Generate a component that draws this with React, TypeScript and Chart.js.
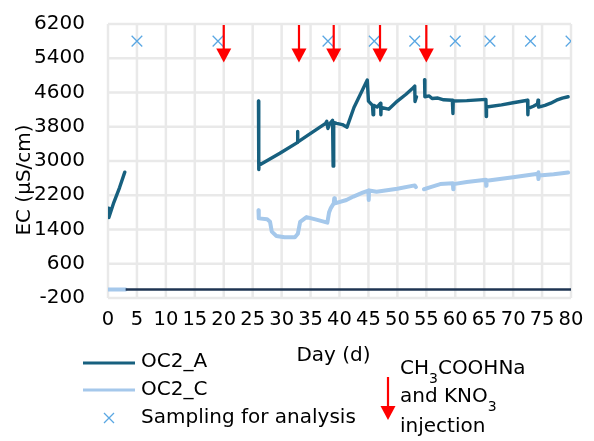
import { useEffect, useRef } from "react";
import { Chart, registerables } from "chart.js";

Chart.register(...registerables);

const FONT = "'DejaVu Sans', sans-serif";

// Electrical conductivity of column OC2_A (µS/cm) by day; null breaks the line
const oc2aDays = [
  0, 0.15, 1.0, 2.0, 2.9, 3.5,
  26.0, 26.05, 26.1, 29.7, 32.7, 32.75, 32.8, 34.5, 36.5, 37.6, 37.8, 38.0, 38.3, 38.8, 38.9, 39.0,
  39.5, 40.5, 41.3, 42.5, 44.8, 45.0, 45.7, 45.8, 45.9, 46.5, 47.1, 47.15, 47.2, 48.5, 50.0, 51.5,
  52.5, 53.0, 53.05, 53.3, 54.0,
  54.7, 54.75, 55.5, 56.0, 57.0, 58.0, 59.5, 59.6, 59.65, 62.0, 65.3, 65.35, 65.4, 68.0, 70.0,
  72.5, 72.55, 72.6, 73.5, 74.2, 74.3, 74.4, 75.5, 76.5, 77.5, 78.5, 79.5,
];
const oc2aEC = [
  1900, 1680, 2030, 2380, 2740, null,
  4400, 2800, 2900, 3180, 3430, 3690, 3440, 3600, 3780, 3880, 3930, 3760, 3870, 3950, 2880, 3900,
  3880, 3850, 3790, 4250, 4890, 4400, 4300, 4080, 4300, 4260, 4350, 4080, 4250, 4210, 4400, 4560,
  4680, 4750, 4390, 4500, null,
  4900, 4500, 4520, 4460, 4470, 4430, 4420, 4110, 4400, 4410, 4440, 4040, 4260, 4310, 4360,
  4420, 4080, 4230, 4280, 4330, 4420, 4260, 4300, 4350, 4420, 4470, 4500,
];

// Electrical conductivity of column OC2_C (µS/cm) by day; null breaks the line
const oc2cDays = [
  0, 3.05, 4.0,
  26.0, 26.05, 27.5, 28.0, 28.3, 29.1, 30.5, 32.3, 32.8, 33.2, 34.3, 36.0, 37.9, 38.2, 38.5, 39.0,
  39.1, 39.2, 41.2, 42.4, 44.0, 45.0, 45.05, 45.1, 46.4, 50.0, 53.0, 53.2, 54.0,
  54.6, 55.6, 57.4, 59.6, 59.65, 59.7, 62.0, 65.3, 65.35, 65.4, 70.0, 74.3, 74.35, 74.4, 74.5,
  77.0, 79.5,
];
const oc2cEC = [
  0, 0, null,
  1850, 1660, 1640, 1580, 1350, 1250, 1220, 1220, 1300, 1580, 1690, 1630, 1560, 1800, 1900, 2010,
  2130, 2010, 2090, 2170, 2260, 2310, 2090, 2310, 2280, 2350, 2430, 2390, null,
  2340, 2385, 2460, 2480, 2340, 2460, 2510, 2560, 2420, 2540, 2620, 2700, 2740, 2580, 2660,
  2690, 2730,
];

// Zero reference line
const zeroDays = [3.05, 80];
const zeroEC = [0, 0];

// Sampling days, marked along the top of the plot
const samplingDays = [5, 19, 38, 46, 53, 60, 66, 73, 80];
const SAMPLING_LEVEL = 5800;

// CH3COONa and KNO3 injection days, drawn as red arrows
const injectionDays = [20, 33, 39, 47, 55];
const ARROW_FROM = 6200;
const ARROW_TO = 5300;

// Axis ranges
const X_MIN = 0;
const X_MAX = 80;
const X_STEP = 5;
const Y_MIN = -200;
const Y_MAX = 6200;
const Y_STEP = 800;

const COLOR_A = "#17607f";
const COLOR_C = "#a5c8eb";
const COLOR_ZERO = "#1e3452";
const COLOR_SAMPLE = "#5aa7e3";
const COLOR_ARROW = "#ff0000";
const COLOR_GRID = "#e9e9e9";

const toPoints = (xs: number[], ys: (number | null)[]) =>
  xs.map((x, i) => ({ x, y: ys[i] }));

function drawArrow(ctx: CanvasRenderingContext2D, x: number, yTop: number, yTip: number, head: number, halfW: number, shaftW: number) {
  ctx.save();
  ctx.strokeStyle = COLOR_ARROW;
  ctx.fillStyle = COLOR_ARROW;
  ctx.lineWidth = shaftW;
  ctx.beginPath();
  ctx.moveTo(x, yTop);
  ctx.lineTo(x, yTip - head + 1);
  ctx.stroke();
  ctx.beginPath();
  ctx.moveTo(x - halfW, yTip - head);
  ctx.lineTo(x + halfW, yTip - head);
  ctx.lineTo(x, yTip);
  ctx.closePath();
  ctx.fill();
  ctx.restore();
}

// Light grid at every tick of both axes, under the data
const gridPlugin = {
  id: "tickGrid",
  beforeDatasetsDraw(chart: any) {
    const { ctx, chartArea, scales } = chart;
    const { left, right, top, bottom } = chartArea;
    ctx.save();
    ctx.strokeStyle = COLOR_GRID;
    ctx.lineWidth = 2.5;
    ctx.beginPath();
    scales.x.ticks.forEach((t: any) => {
      const px = scales.x.getPixelForValue(t.value);
      ctx.moveTo(px, top);
      ctx.lineTo(px, bottom);
    });
    scales.y.ticks.forEach((t: any) => {
      const py = scales.y.getPixelForValue(t.value);
      ctx.moveTo(left, py);
      ctx.lineTo(right, py);
    });
    ctx.stroke();
    ctx.restore();
  },
};

const arrowsPlugin = {
  id: "injectionArrows",
  afterDatasetsDraw(chart: any) {
    const { ctx, scales } = chart;
    const xs = scales.x;
    const ys = scales.y;
    const yTop = ys.getPixelForValue(ARROW_FROM) + 1;
    const yTip = ys.getPixelForValue(ARROW_TO);
    injectionDays.forEach((d) => {
      drawArrow(ctx, xs.getPixelForValue(d), yTop, yTip, 14, 7.5, 2.2);
    });
  },
};

const annotationsPlugin = {
  id: "titlesAndLegend",
  afterDraw(chart: any) {
    const { ctx, chartArea } = chart;
    ctx.save();
    ctx.fillStyle = "#000";
    ctx.textBaseline = "middle";

    // y-axis title
    ctx.save();
    ctx.translate(25, 180);
    ctx.rotate(-Math.PI / 2);
    ctx.textAlign = "center";
    ctx.font = `20px ${FONT}`;
    ctx.fillText("EC (µS/cm)", 0, 0);
    ctx.restore();

    // x-axis title
    ctx.textAlign = "center";
    ctx.font = `20px ${FONT}`;
    ctx.fillText("Day (d)", (chartArea.left + chartArea.right) / 2 - 6, 356);

    // legend: series lines
    ctx.textAlign = "left";
    ctx.lineCap = "butt";
    ctx.strokeStyle = COLOR_A;
    ctx.lineWidth = 3;
    ctx.beginPath();
    ctx.moveTo(83, 363);
    ctx.lineTo(135, 363);
    ctx.stroke();
    ctx.fillText("OC2_A", 141, 362);

    ctx.strokeStyle = COLOR_C;
    ctx.beginPath();
    ctx.moveTo(83, 390);
    ctx.lineTo(135, 390);
    ctx.stroke();
    ctx.fillText("OC2_C", 141, 390);

    // legend: sampling marker
    ctx.strokeStyle = COLOR_SAMPLE;
    ctx.lineWidth = 1.3;
    ctx.beginPath();
    ctx.moveTo(104, 413);
    ctx.lineTo(114, 423);
    ctx.moveTo(114, 413);
    ctx.lineTo(104, 423);
    ctx.stroke();
    ctx.fillText("Sampling for analysis", 141, 418);

    // legend: injection arrow and label with subscripts
    drawArrow(ctx, 388, 377, 420, 14, 7.5, 2.2);
    const sub = `14px ${FONT}`;
    const main = `20px ${FONT}`;
    let x = 400;
    ctx.font = main;
    ctx.fillText("CH", x, 369);
    x += ctx.measureText("CH").width;
    ctx.font = sub;
    ctx.fillText("3", x, 379);
    x += ctx.measureText("3").width;
    ctx.font = main;
    ctx.fillText("COOHNa", x, 369);

    x = 400;
    ctx.fillText("and KNO", x, 397);
    x += ctx.measureText("and KNO").width;
    ctx.font = sub;
    ctx.fillText("3", x, 407);
    ctx.font = main;
    ctx.fillText("injection", 400, 427);
    ctx.restore();
  },
};

export default function App() {
  const canvasRef = useRef<HTMLCanvasElement | null>(null);

  useEffect(() => {
    const canvas = canvasRef.current;
    if (!canvas) return;
    const chart = new Chart(canvas, {
      type: "scatter",
      data: {
        datasets: [
          {
            label: "zero",
            data: toPoints(zeroDays, zeroEC),
            showLine: true,
            borderColor: COLOR_ZERO,
            borderWidth: 2.5,
            pointRadius: 0,
            order: 0,
          },
          {
            label: "OC2_A",
            data: toPoints(oc2aDays, oc2aEC),
            showLine: true,
            spanGaps: false,
            borderColor: COLOR_A,
            borderWidth: 3.4,
            borderCapStyle: "round",
            borderJoinStyle: "round",
            pointRadius: 0,
            order: 1,
          },
          {
            label: "OC2_C",
            data: toPoints(oc2cDays, oc2cEC),
            showLine: true,
            spanGaps: false,
            borderColor: COLOR_C,
            borderWidth: 4,
            borderCapStyle: "round",
            borderJoinStyle: "round",
            pointRadius: 0,
            order: 2,
          },
          {
            label: "Sampling for analysis",
            data: samplingDays.map((d) => ({ x: d, y: SAMPLING_LEVEL })),
            showLine: false,
            pointStyle: "crossRot",
            pointRadius: 7.5,
            borderColor: COLOR_SAMPLE,
            borderWidth: 1.3,
            order: 3,
          },
        ],
      },
      options: {
        animation: false,
        responsive: false,
        maintainAspectRatio: false,
        layout: { padding: { top: 24, right: 23, left: 0, bottom: 0 } },
        plugins: {
          legend: { display: false },
          tooltip: { enabled: false },
        },
        scales: {
          x: {
            type: "linear",
            min: X_MIN,
            max: X_MAX,
            ticks: {
              stepSize: X_STEP,
              padding: 10,
              color: "#000",
              maxRotation: 0,
              autoSkip: false,
              font: { family: FONT, size: 19.5 },
              callback: (v: any) => String(v),
            },
            grid: { display: false, drawTicks: false },
            border: { display: false },
            afterFit: (s: any) => {
              s.height = 143;
              s.paddingLeft = 0;
              s.paddingRight = 0;
            },
          },
          y: {
            type: "linear",
            min: Y_MIN,
            max: Y_MAX,
            ticks: {
              stepSize: Y_STEP,
              padding: 23,
              color: "#000",
              font: { family: FONT, size: 20 },
              callback: (v: any) => String(v),
            },
            grid: { display: false, drawTicks: false },
            border: { display: false },
            afterFit: (s: any) => {
              s.width = 108;
              s.paddingTop = 0;
              s.paddingBottom = 0;
            },
          },
        },
      },
      plugins: [gridPlugin, arrowsPlugin, annotationsPlugin],
    });
    return () => chart.destroy();
  }, []);

  return (
    <div style={{ position: "fixed", left: 0, top: 0, width: 594, height: 441, background: "#fff" }}>
      <canvas ref={canvasRef} width={594} height={441} />
    </div>
  );
}
